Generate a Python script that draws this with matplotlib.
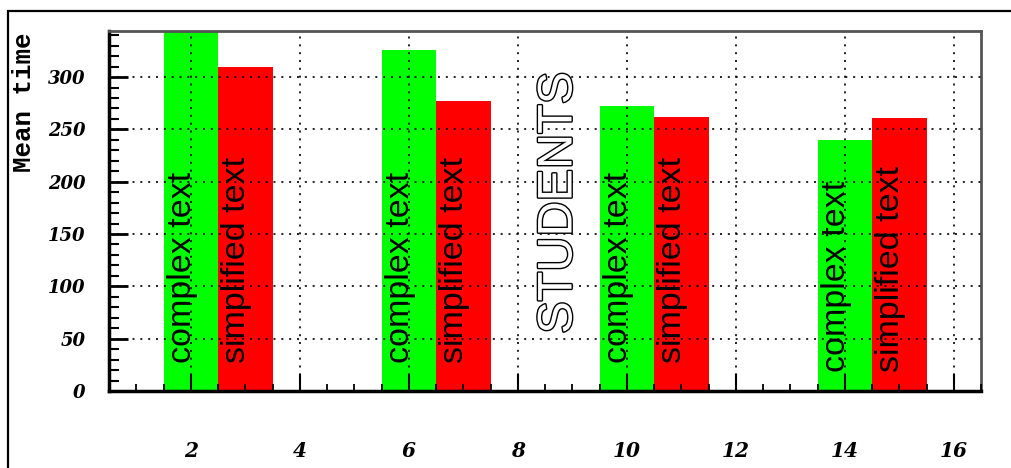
import numpy as np
import matplotlib
matplotlib.use('Agg')
import matplotlib.pyplot as plt
import matplotlib.patheffects as pe
from matplotlib.patches import Rectangle
from matplotlib.ticker import MultipleLocator

# data
group_x = [2, 6, 10, 14]
complex_vals = [345, 326, 272, 240]
simplified_vals = [310, 277, 262, 261]
text_base = [27, 27, 27, 18]
x_ticks = [2, 4, 6, 8, 10, 12, 14, 16]
y_ticks = [0, 50, 100, 150, 200, 250, 300]

fig = plt.figure(figsize=(10.12, 4.68), dpi=100)
ax = fig.add_axes([109 / 1012, 1 - 391 / 468, (981 - 109) / 1012, (391 - 31) / 468])

# outer pad frame
fig.patches.append(Rectangle((8 / 1012, -0.2), 1.5, 1.2 - 11 / 468,
                             transform=fig.transFigure, fill=False,
                             edgecolor='black', lw=1.6))

cx = np.array(group_x, dtype=float)
ax.bar(cx, complex_vals, width=1.0, color='#00ff00', zorder=1)
ax.bar(cx + 1, simplified_vals, width=1.0, color='#ff0000', zorder=1)
ax.axhline(0, color='#00cc00', lw=2, zorder=2)

for xc, yb in zip(cx, text_base):
    ax.text(xc + 0.13, yb, 'complex text', rotation=90, ha='right', va='bottom',
            family='Liberation Sans', fontsize=24.5, color='black', zorder=4)
    ax.text(xc + 1.13, yb, 'simplified text', rotation=90, ha='right', va='bottom',
            family='Liberation Sans', fontsize=24.5, color='black', zorder=4)

ax.text(9.17, 180, 'STUDENTS', rotation=90, ha='right', va='center',
        family='Liberation Sans', fontsize=35, color='white', zorder=4,
        path_effects=[pe.withStroke(linewidth=2, foreground='black')])

ax.set_xlim(0.5, 16.5)
ax.set_ylim(0, 344)
ax.set_xticks(x_ticks)
ax.set_yticks(y_ticks)
ax.xaxis.set_minor_locator(MultipleLocator(0.5))
ax.yaxis.set_minor_locator(MultipleLocator(10))

ax.tick_params(axis='x', which='major', direction='in', length=12, width=1.5,
               pad=36, labelsize=14.5)
ax.tick_params(axis='x', which='minor', direction='in', length=5, width=1.3)
ax.tick_params(axis='y', which='major', direction='in', length=14, width=2,
               pad=17, labelsize=13)
ax.tick_params(axis='y', which='minor', direction='in', length=7, width=1.5)
for lab in ax.get_xticklabels() + ax.get_yticklabels():
    lab.set_family('DejaVu Serif')
    lab.set_fontweight('bold')
    lab.set_fontstyle('italic')

ax.grid(True, which='major', color='black', linestyle=(0, (1.2, 3.5)), lw=1.2, zorder=3)
ax.set_axisbelow(False)

ax.spines['left'].set_linewidth(2.5)
ax.spines['bottom'].set_linewidth(2.5)
for s in ['top', 'right']:
    ax.spines[s].set_color('#555555')
    ax.spines[s].set_linewidth(2)

fig.text(24 / 1012, 1 - 33 / 468, 'Mean time', rotation=90, ha='center', va='top',
         family='Liberation Mono', fontweight='bold', fontsize=18.5)

fig.savefig('out.png', dpi=100)
